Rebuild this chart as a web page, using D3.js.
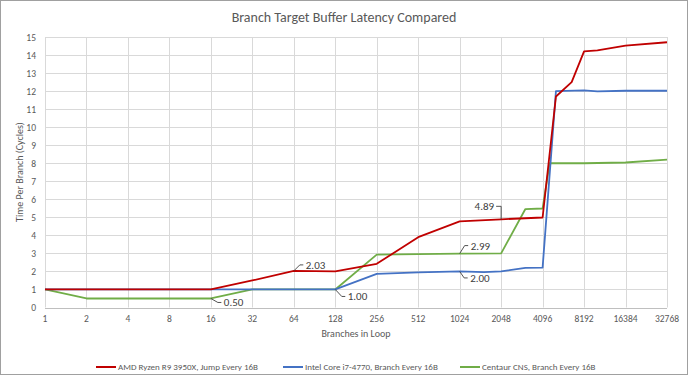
<!DOCTYPE html>
<html>
<head>
<meta charset="utf-8">
<script src="https://cdn.jsdelivr.net/npm/d3@7"></script>
<style>
  html,body{margin:0;padding:0;background:#fff;}
  svg{display:block;font-family:Carlito,Calibri,Lato,"Open Sans",sans-serif;}
</style>
</head>
<body>
<svg id="chart" width="688" height="375"></svg>
<script>
/* Branch Target Buffer latency, three CPUs, log2 branch counts */
var xTicks = [1,2,4,8,16,32,64,128,256,512,1024,2048,4096,8192,16384,32768];
var yTicks = d3.range(0,16);

var amdX   = [1,2,4,8,16,32,64,128,256,512,1024,2048,4096,5120,6656,8192,10240,16384,32768];
var amdY   = [1,1,1,1,1,1.5,2.03,2.0,2.42,3.9,4.78,4.89,4.99,11.7,12.5,14.2,14.26,14.52,14.71];
var intelX = [1,2,4,8,16,32,64,128,256,512,1024,1536,2048,3072,4096,5120,8192,10240,16384,32768];
var intelY = [1,1,1,1,1,1,1,1,1.86,1.95,2.0,1.96,2.0,2.2,2.21,12.0,12.04,11.98,12.02,12.02];
var cnsX   = [1,2,4,8,16,32,64,128,256,512,1024,2048,3072,4096,4608,8192,16384,32768];
var cnsY   = [1,0.5,0.5,0.5,0.5,1,1,1,2.93,2.96,2.99,3.0,5.46,5.49,8.0,8.0,8.04,8.2];

var seriesNames = ["AMD Ryzen R9 3950X, Jump Every 16B","Intel Core i7-4770, Branch Every 16B","Centaur CNS, Branch Every 16B"];
var seriesColors = ["#C00000","#4472C4","#70AD47"];

// data labels: series index, branch count, text
var labelSeries = [0,2,2,2,1,0];
var labelAt     = [64,16,128,1024,1024,2048];
var labelText   = ["2.03","0.50","1.00","2.99","2.00","4.89"];
// leader layout (offset from point): [dx,dy,anchor]
var labelLayout = [[12,-6,"start"],[13,4,"start"],[12.5,7,"start"],[11,-8,"start"],[10.5,6.5,"start"],[-7,-13,"end"]];

var series = [[amdX,amdY],[intelX,intelY],[cnsX,cnsY]].map(function(s,i){
  return {name:seriesNames[i], color:seriesColors[i],
          pts:s[0].map(function(x,j){return {x:x,y:s[1][j]};})};
});

var svg = d3.select("#chart");
var W=688, H=375, m={l:45,r:21,t:37,b:68};
var x = d3.scaleLog().base(2).domain([1,32768]).range([m.l, W-m.r]);
var y = d3.scaleLinear().domain([0,15]).range([H-m.b+0.5, m.t]);
var TXT="#595959", GRID="#d9d9d9";

svg.append("rect").attr("x",0.5).attr("y",0.5).attr("width",W-1).attr("height",H-1)
  .attr("fill","#fff").attr("stroke","#a0a0a0");

svg.append("text").attr("x",344).attr("y",22).attr("text-anchor","middle")
  .attr("fill",TXT).attr("font-size",14).text("Branch Target Buffer Latency Compared");

// grid
var g = svg.append("g");
yTicks.forEach(function(t){
  g.append("line").attr("x1",x(1)).attr("x2",x(32768)).attr("y1",Math.round(y(t))+0.5).attr("y2",Math.round(y(t))+0.5)
    .attr("stroke",t===0?"#bfbfbf":GRID).attr("stroke-width",1);
  g.append("text").attr("x",36).attr("y",y(t)+3.5).attr("text-anchor","end")
    .attr("fill",TXT).attr("font-size",9.5).text(t);
});
xTicks.forEach(function(t){
  g.append("line").attr("x1",Math.round(x(t))+0.5).attr("x2",Math.round(x(t))+0.5).attr("y1",y(15)).attr("y2",y(0))
    .attr("stroke",GRID).attr("stroke-width",1);
  g.append("text").attr("x",x(t)).attr("y",322).attr("text-anchor","middle")
    .attr("fill",TXT).attr("font-size",9.5).text(t);
});

svg.append("text").attr("x",(x(1)+x(32768))/2).attr("y",337).attr("text-anchor","middle")
  .attr("fill",TXT).attr("font-size",10).text("Branches in Loop");
svg.append("text").attr("transform","translate(23,172) rotate(-90)").attr("text-anchor","middle")
  .attr("fill",TXT).attr("font-size",10).text("Time Per Branch (Cycles)");

// lines
var line = d3.line().x(function(d){return x(d.x);}).y(function(d){return y(d.y);});
[2,1,0].forEach(function(i){
  var s=series[i];
  svg.append("path").datum(s.pts).attr("d",line).attr("fill","none")
    .attr("stroke",s.color).attr("stroke-width",1.8).attr("stroke-linejoin","round");
});

// data labels with leader lines
labelText.forEach(function(t,i){
  var s=series[labelSeries[i]], p=s.pts.filter(function(d){return d.x===labelAt[i];})[0];
  var px=x(p.x), py=y(p.y), L=labelLayout[i], dx=L[0], dy=L[1], path;
  if (L[2]==="end") {
    path="M"+px+","+py+"L"+px+","+(py+dy)+"L"+(px+dx+2)+","+(py+dy);
  } else {
    path="M"+px+","+py+"L"+(px+dx-6)+","+(py+dy)+"L"+(px+dx-2.5)+","+(py+dy);
  }
  svg.append("path").attr("d",path).attr("fill","none").attr("stroke","#404040").attr("stroke-width",0.9);
  svg.append("text").attr("x",px+dx).attr("y",py+dy+4).attr("text-anchor",L[2])
    .attr("fill","#404040").attr("font-size",11).text(t);
});

// legend
var legX=[96,283,460];
series.forEach(function(s,i){
  svg.append("line").attr("x1",legX[i]).attr("x2",legX[i]+20).attr("y1",367).attr("y2",367)
    .attr("stroke",s.color).attr("stroke-width",2);
  svg.append("text").attr("x",legX[i]+22).attr("y",370).attr("fill",TXT).attr("font-size",9).text(s.name);
});
</script>
</body>
</html>
